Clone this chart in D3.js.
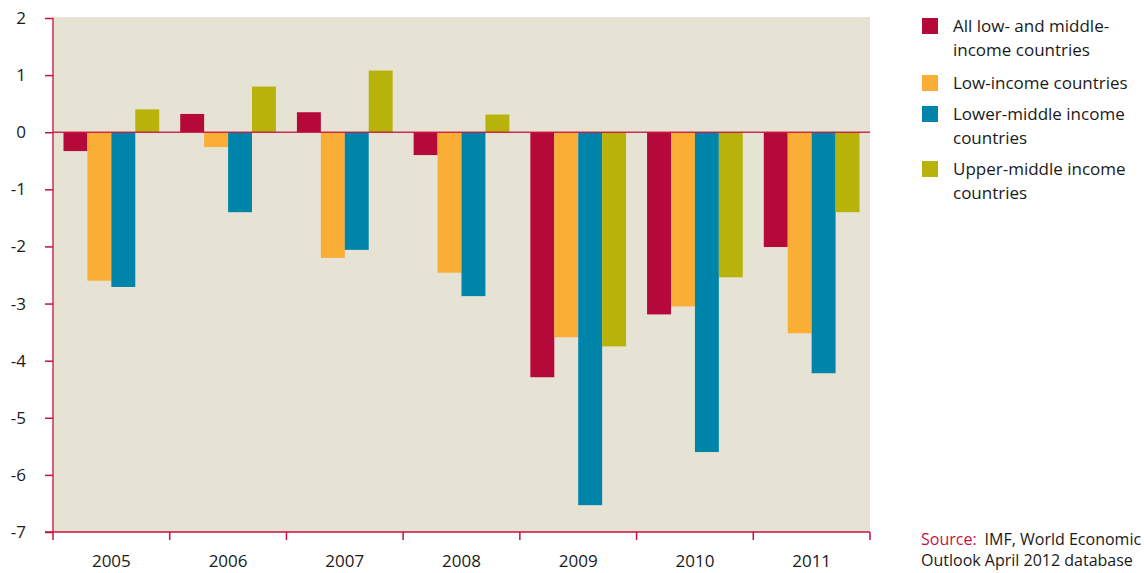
<!DOCTYPE html>
<html>
<head>
<meta charset="utf-8">
<script src="https://cdn.jsdelivr.net/npm/d3@7"></script>
<style>
  body { margin: 0; background: #fff; }
  text { font-family: "Open Sans", "Noto Sans", sans-serif; fill: #1a1a1a; }
</style>
</head>
<body>
<svg width="1144" height="573"></svg>
<script>
const years = ["2005", "2006", "2007", "2008", "2009", "2010", "2011"];
const seriesNames = ["All low- and middle-income countries", "Low-income countries", "Lower-middle income countries", "Upper-middle income countries"];
const allLowMiddle = [-0.33, 0.32, 0.35, -0.4, -4.29, -3.19, -2.01];
const lowIncome = [-2.6, -0.26, -2.2, -2.46, -3.59, -3.05, -3.52];
const lowerMiddle = [-2.71, -1.4, -2.06, -2.87, -6.53, -5.6, -4.22];
const upperMiddle = [0.4, 0.8, 1.08, 0.31, -3.75, -2.54, -1.4];
const yTicks = [2, 1, 0, -1, -2, -3, -4, -5, -6, -7];
const legendLines = [["All low- and middle-", "income countries"], ["Low-income countries"], ["Lower-middle income", "countries"], ["Upper-middle income", "countries"]];

const colors = ["#b5093a", "#fbae35", "#0085aa", "#b8b30a"];
const axisColor = "#c8103e";

const margin = {top: 18, left: 53};
const width = 817, height = 514;

const svg = d3.select("svg");
const g = svg.append("g").attr("transform", `translate(${margin.left},${margin.top})`);

const x = d3.scaleBand().domain(years).range([0, width]).paddingInner(0).paddingOuter(0);
const x1 = d3.scaleBand().domain(d3.range(4)).range([x.bandwidth() * 0.09, x.bandwidth() * 0.91]);
const y = d3.scaleLinear().domain([-7, 2]).range([height, 0]);

// background
g.append("rect").attr("x", 0).attr("y", -1).attr("width", width).attr("height", height + 1).attr("fill", "#e6e3d4");

const data = [allLowMiddle, lowIncome, lowerMiddle, upperMiddle];

years.forEach((yr, i) => {
  const grp = g.append("g").attr("transform", `translate(${x(yr)},0)`);
  grp.selectAll("rect")
    .data(data.map((s, k) => ({k, v: s[i]})))
    .enter().append("rect")
    .attr("x", d => x1(d.k))
    .attr("width", x1.bandwidth())
    .attr("y", d => y(Math.max(0, d.v)))
    .attr("height", d => Math.abs(y(d.v) - y(0)))
    .attr("fill", d => colors[d.k]);
});

// zero line
g.append("line").attr("x1", 0).attr("x2", width).attr("y1", y(0)).attr("y2", y(0))
  .attr("stroke", axisColor).attr("stroke-width", 1.5).attr("opacity", 0.85);

// y axis
const yAxis = g.append("g").call(d3.axisLeft(y).tickValues(yTicks).tickSize(8).tickPadding(19).tickFormat(d => String(d)));
yAxis.select(".domain").attr("stroke", axisColor).attr("stroke-width", 1.3).attr("d", `M0,${y(2)}V${height}`);
yAxis.selectAll(".tick line").attr("stroke", axisColor).attr("stroke-width", 1.5);
yAxis.selectAll(".tick text").style("font-size", "17px").attr("fill", "#1a1a1a");

// x axis with ticks at band boundaries
const xAxis = g.append("g").attr("transform", `translate(0,${height})`);
xAxis.append("line").attr("x1", -8).attr("x2", width).attr("stroke", axisColor).attr("stroke-width", 1.5);
xAxis.selectAll(".bt").data(years.concat(["end"])).enter().append("line")
  .attr("x1", (d, i) => i * x.bandwidth()).attr("x2", (d, i) => i * x.bandwidth())
  .attr("y1", 0).attr("y2", 8).attr("stroke", axisColor).attr("stroke-width", 1.5);
xAxis.selectAll(".lbl").data(years).enter().append("text")
  .attr("x", d => x(d) + x.bandwidth() / 2).attr("y", 35)
  .attr("text-anchor", "middle").style("font-size", "17px").text(d => d);

// legend
const legend = svg.append("g").attr("transform", "translate(922,18)");
const legendY = [0, 57, 88, 143];
legendLines.forEach((lines, i) => {
  legend.append("rect").attr("x", 0).attr("y", legendY[i]).attr("width", 16).attr("height", 16).attr("fill", colors[i]);
  lines.forEach((t, j) => {
    legend.append("text").attr("x", 31).attr("y", legendY[i] + 14 + j * 24)
      .style("font-size", "17px").text(t);
  });
});

// source
const src = svg.append("text").attr("x", 921).attr("y", 545).style("font-size", "16px");
src.append("tspan").attr("fill", axisColor).style("fill", axisColor).text("Source:");
src.append("tspan").attr("dx", 8).text("IMF, World Economic");
svg.append("text").attr("x", 921).attr("y", 566).style("font-size", "16px").text("Outlook April 2012 database");
</script>
</body>
</html>
